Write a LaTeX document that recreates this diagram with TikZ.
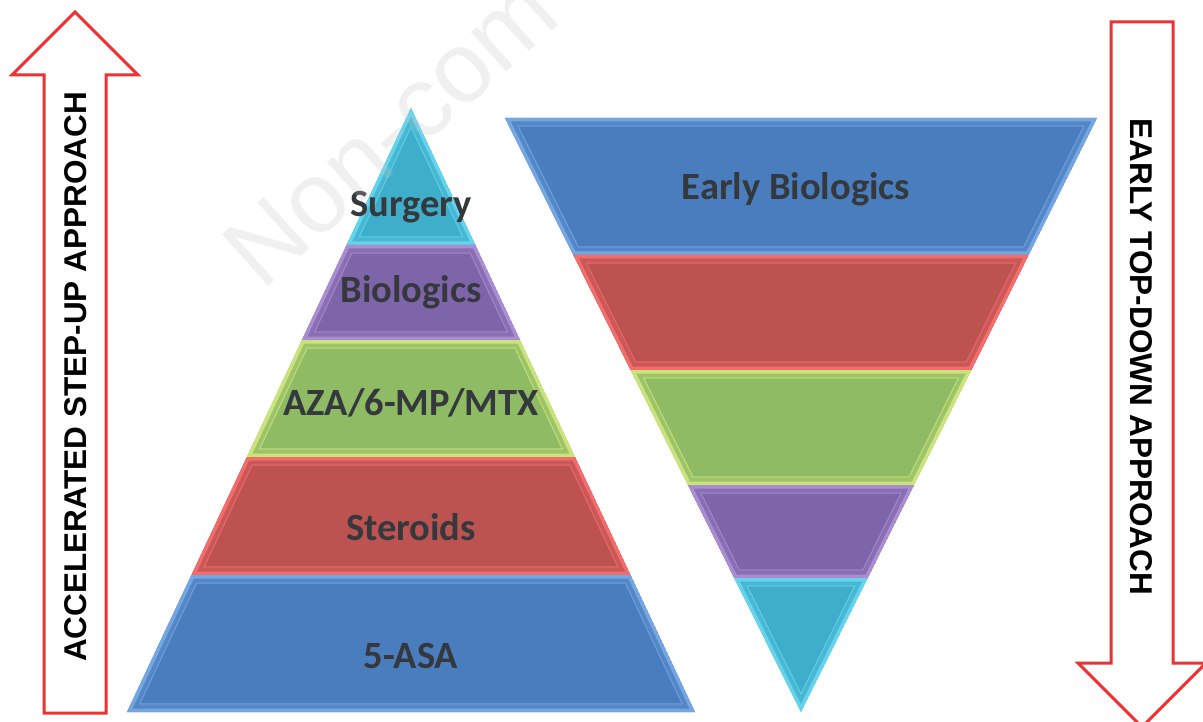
\documentclass[tikz,border=0pt]{standalone}
\usepackage{fontspec}
\setmainfont{Carlito}
\newfontfamily\arrowfont{Liberation Sans}
\newfontfamily\markfont{Liberation Sans}

\definecolor{arrowred}{HTML}{EC3232}
\definecolor{labelgray}{HTML}{35383C}
\definecolor{bandblue}{HTML}{4A7DBE}
\definecolor{bandbluelt}{HTML}{74A6E2}
\definecolor{bandred}{HTML}{BD5351}
\definecolor{bandredlt}{HTML}{F26C6C}
\definecolor{bandgreen}{HTML}{8EBB64}
\definecolor{bandgreenlt}{HTML}{CBE37C}
\definecolor{bandpurple}{HTML}{7E65A9}
\definecolor{bandpurplelt}{HTML}{A98DD0}
\definecolor{bandcyan}{HTML}{3EAECA}
\definecolor{bandcyanlt}{HTML}{63D3EE}

\tikzset{
  layerlabel/.style={font=\fontsize{38.5}{40}\selectfont\bfseries, text=labelgray, inner sep=0pt, anchor=base},
  arrowtext/.style={font=\arrowfont\fontsize{31.5}{33}\selectfont\bfseries, text=black, inner sep=0pt},
  bigarrow/.style={draw=arrowred, line width=3pt, fill=white, line join=miter},
  watermark/.style={font=\markfont\fontsize{100}{102}\selectfont, text=black!22, opacity=0.25, inner sep=0pt, anchor=base west},
}

% One band of a pyramid: #1 centre x, #2 apex y, #3 half-width per unit of height,
% #4 top y, #5 bottom y, #6 fill colour, #7 bevel colour
\newcommand\layerband[7]{%
  \pgfmathsetmacro\lbwt{#3*abs(#4-#2)}%
  \pgfmathsetmacro\lbwb{#3*abs(#5-#2)}%
  \pgfmathsetmacro\lbs{sqrt(1+#3*#3)}%
  \pgfmathsetmacro\lbyt{ifthenelse(#2<=#4, max(#4+8, #2+\lbs*8/#3), #4+8)}%
  \pgfmathsetmacro\lbyb{ifthenelse(#2>=#5, min(#5-8, #2-\lbs*8/#3), #5-8)}%
  \pgfmathsetmacro\lbit{max(0, #3*abs(\lbyt-#2)-\lbs*8)}%
  \pgfmathsetmacro\lbib{max(0, #3*abs(\lbyb-#2)-\lbs*8)}%
  \begin{scope}
    \clip (#1-\lbwt,#4) -- (#1+\lbwt,#4) -- (#1+\lbwb,#5) -- (#1-\lbwb,#5) -- cycle;
    \fill[#6] (#1-\lbwt,#4) -- (#1+\lbwt,#4) -- (#1+\lbwb,#5) -- (#1-\lbwb,#5) -- cycle;
    \draw[#7!70!#6, line width=14pt, opacity=0.35] (#1-\lbwt,#4) -- (#1+\lbwt,#4) -- (#1+\lbwb,#5) -- (#1-\lbwb,#5) -- cycle;
    \draw[#7, line width=7pt] (#1-\lbwt,#4) -- (#1+\lbwt,#4) -- (#1+\lbwb,#5) -- (#1-\lbwb,#5) -- cycle;
    \draw[#7, line width=1.2pt, opacity=0.8] (#1-\lbit,\lbyt) -- (#1+\lbit,\lbyt) -- (#1+\lbib,\lbyb) -- (#1-\lbib,\lbyb) -- cycle;
  \end{scope}}

\begin{document}
\begin{tikzpicture}[x=1pt, y=-1pt]
  \useasboundingbox (0,0) rectangle (1203,722);
  \fill[white] (0,0) rectangle (1203,722);

  % step-up pyramid, apex at the top
  \layerband{411}{108}{0.4702}{108}{245}{bandcyan}{bandcyanlt}
  \layerband{411}{108}{0.4702}{245}{340}{bandpurple}{bandpurplelt}
  \layerband{411}{108}{0.4702}{340}{457}{bandgreen}{bandgreenlt}
  \layerband{411}{108}{0.4702}{457}{575}{bandred}{bandredlt}
  \layerband{411}{108}{0.4702}{575}{712}{bandblue}{bandbluelt}

  % top-down funnel, apex at the bottom
  \layerband{801}{712}{0.4983}{118}{255}{bandblue}{bandbluelt}
  \layerband{801}{712}{0.4983}{255}{370}{bandred}{bandredlt}
  \layerband{801}{712}{0.4983}{370}{485}{bandgreen}{bandgreenlt}
  \layerband{801}{712}{0.4983}{485}{578}{bandpurple}{bandpurplelt}
  \layerband{801}{712}{0.4983}{578}{712}{bandcyan}{bandcyanlt}

  % labels of the layers
  \node[layerlabel] (surgery)   at (411,217) {Surgery};
  \node[layerlabel] (biologics) at (411,303) {Biologics};
  \node[layerlabel] (immuno)    at (411,415) {AZA/6-MP/MTX};
  \node[layerlabel] (steroids)  at (411,540) {Steroids};
  \node[layerlabel] (asa)       at (411,668) {5-ASA};
  \node[layerlabel] (early)     at (796,200) {Early Biologics};

  % block arrows
  \draw[bigarrow] (75,12) -- (138,75) -- (106,75) -- (106,713) -- (44,713) -- (44,75) -- (12,75) -- cycle;
  \draw[bigarrow] (1111,22) -- (1173,22) -- (1173,663) -- (1206,663) -- (1142,727) -- (1078,663) -- (1111,663) -- cycle;
  \node[arrowtext, rotate=90]  (stepup)  at (76,377)   {ACCELERATED STEP-UP APPROACH};
  \node[arrowtext, rotate=-90] (topdown) at (1141,357) {EARLY TOP-DOWN APPROACH};

  % faint stamp across the upper left
  \begin{scope}
    \clip (0,0) rectangle (1203,722);
    \node[watermark, rotate=42] (stamp) at (262,292) {Non-com};
  \end{scope}
\end{tikzpicture}
\end{document}
